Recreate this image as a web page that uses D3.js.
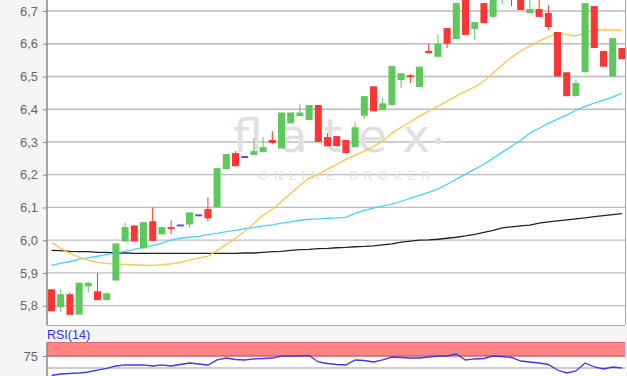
<!DOCTYPE html>
<html>
<head>
<meta charset="utf-8">
<script src="https://cdn.jsdelivr.net/npm/d3@7"></script>
<style>
  body { margin: 0; background: #f5f5f5; }
  svg { display: block; }
</style>
</head>
<body>
<svg id="chart" width="627" height="376"></svg>
<script>

// daily candles, oldest first
var opens  = [5.85, 5.795, 5.835, 5.773, 5.859, 5.844, 5.817, 5.877, 5.996, 6.045,
              5.975, 6.058, 6.018, 6.04, 6.045, 6.048, 6.076, 6.095, 6.101, 6.217,
              6.266, 6.254, 6.26, 6.269, 6.306, 6.28, 6.357, 6.379, 6.367, 6.413,
              6.315, 6.318, 6.306, 6.284, 6.38, 6.47, 6.397, 6.413, 6.489, 6.504,
              6.468, 6.578, 6.56, 6.648, 6.614, 6.76, 6.645, 6.724, 6.682, 6.74,
              6.76, 6.75, 6.694, 6.706, 6.694, 6.636, 6.513, 6.44, 6.513, 6.715,
              6.578, 6.5, 6.587];
var highs  = [5.85, 5.85, 5.84, 5.87, 5.872, 5.9, 5.838, 5.99, 6.053, 6.045,
              6.055, 6.1, 6.04, 6.061, 6.045, 6.085, 6.076, 6.13, 6.22, 6.263,
              6.272, 6.254, 6.312, 6.315, 6.333, 6.39, 6.39, 6.415, 6.413, 6.413,
              6.327, 6.318, 6.306, 6.36, 6.44, 6.47, 6.434, 6.532, 6.51, 6.507,
              6.53, 6.6, 6.63, 6.648, 6.724, 6.76, 6.666, 6.724, 6.75, 6.78,
              6.77, 6.76, 6.74, 6.74, 6.718, 6.636, 6.513, 6.489, 6.724, 6.715,
              6.578, 6.617, 6.587];
var lows   = [5.783, 5.78, 5.772, 5.773, 5.84, 5.817, 5.817, 5.877, 5.996, 5.996,
              5.975, 5.998, 6.018, 6.018, 6.045, 6.039, 6.076, 6.058, 6.101, 6.217,
              6.226, 6.254, 6.26, 6.269, 6.293, 6.28, 6.357, 6.379, 6.367, 6.3,
              6.287, 6.287, 6.266, 6.284, 6.37, 6.394, 6.397, 6.413, 6.465, 6.48,
              6.468, 6.571, 6.56, 6.587, 6.614, 6.627, 6.61, 6.663, 6.682, 6.722,
              6.715, 6.703, 6.694, 6.682, 6.642, 6.5, 6.44, 6.44, 6.513, 6.587,
              6.53, 6.5, 6.553];
var closes = [5.783, 5.835, 5.772, 5.87, 5.87, 5.817, 5.838, 5.99, 6.04, 5.996,
              6.055, 5.998, 6.04, 6.034, 6.045, 6.085, 6.076, 6.067, 6.22, 6.263,
              6.226, 6.254, 6.272, 6.284, 6.297, 6.39, 6.39, 6.39, 6.413, 6.3,
              6.287, 6.287, 6.266, 6.345, 6.44, 6.394, 6.418, 6.532, 6.51, 6.498,
              6.53, 6.571, 6.6, 6.6, 6.724, 6.627, 6.666, 6.663, 6.75, 6.78,
              6.74, 6.703, 6.706, 6.682, 6.651, 6.5, 6.44, 6.48, 6.724, 6.587,
              6.53, 6.617, 6.553];

// moving averages (orange = short, cyan = mid, black = long)
var maShort = [5.994, 5.975, 5.96, 5.948, 5.939, 5.932, 5.929, 5.926, 5.926, 5.925,
               5.923, 5.923, 5.925, 5.928, 5.932, 5.939, 5.945, 5.951, 5.969, 5.987,
               6.006, 6.027, 6.052, 6.076, 6.094, 6.119, 6.143, 6.168, 6.189, 6.202,
               6.217, 6.232, 6.247, 6.26, 6.272, 6.287, 6.302, 6.327, 6.345, 6.361,
               6.379, 6.394, 6.409, 6.425, 6.44, 6.455, 6.468, 6.486, 6.51, 6.535,
               6.559, 6.578, 6.593, 6.608, 6.62, 6.633, 6.628, 6.624, 6.633, 6.642,
               6.642, 6.642, 6.642];
var maMid   = [5.923, 5.929, 5.935, 5.942, 5.946, 5.951, 5.957, 5.961, 5.966, 5.972,
               5.978, 5.984, 5.991, 6.0, 6.006, 6.009, 6.012, 6.017, 6.021, 6.026,
               6.03, 6.035, 6.039, 6.044, 6.047, 6.052, 6.056, 6.061, 6.064, 6.065,
               6.067, 6.068, 6.07, 6.082, 6.091, 6.098, 6.104, 6.11, 6.119, 6.128,
               6.137, 6.146, 6.156, 6.171, 6.186, 6.202, 6.217, 6.232, 6.25, 6.269,
               6.287, 6.305, 6.327, 6.342, 6.357, 6.37, 6.382, 6.397, 6.409, 6.419,
               6.428, 6.437, 6.449];
var maLong  = [5.969, 5.968, 5.966, 5.965, 5.965, 5.963, 5.963, 5.961, 5.961, 5.96,
               5.96, 5.96, 5.96, 5.96, 5.96, 5.96, 5.96, 5.96, 5.96, 5.96,
               5.96, 5.961, 5.961, 5.963, 5.965, 5.966, 5.969, 5.971, 5.972, 5.974,
               5.975, 5.977, 5.978, 5.98, 5.981, 5.983, 5.986, 5.989, 5.994, 5.997,
               6.0, 6.001, 6.003, 6.006, 6.009, 6.013, 6.018, 6.024, 6.03, 6.038,
               6.041, 6.044, 6.046, 6.052, 6.056, 6.059, 6.062, 6.065, 6.068, 6.072,
               6.075, 6.078, 6.081];

var rsi = [34.4, 37.5, 38.5, 39.6, 41.7, 45.8, 49, 54.2, 56.3, 56.3,
           56.3, 54.2, 56.3, 54.2, 57.3, 60.4, 58.3, 56.3, 66.7, 70.8,
           67.7, 66.7, 68.8, 69.8, 70.8, 75, 75, 75, 76, 62.5,
           59.4, 57.3, 56.3, 66.7, 65.6, 62.5, 66.7, 72.9, 71.9, 70.8,
           70.8, 72.9, 75, 75, 79.2, 66.7, 68.8, 69.8, 75, 74,
           71.9, 64.6, 62.5, 60.4, 57.3, 45.8, 39.6, 43.8, 60.4, 52.1,
           47.9, 52.1, 50];

var priceTicks = [5.8, 5.9, 6.0, 6.1, 6.2, 6.3, 6.4, 6.5, 6.6, 6.7];
var rsiTicks = [75];
var rsiGrid = [50];

var upColor = '#5dc95d', downColor = '#ff3535', dojiColor = '#6a4cd4';

var svg = d3.select('#chart');
var plot = {left: 47, right: 625, top: 0, bottom: 325};
var rsiPanel = {top: 342, bottom: 390};

var n = closes.length;
var x = d3.scaleBand().domain(d3.range(n)).range([45.8, 627.6]).padding(0.24);
var y = d3.scaleLinear().domain([5.8, 6.7]).range([305.7, 11]);
var yRsi = d3.scaleLinear().domain([50, 75]).range([368, 356]);
var cx = i => x(i) + x.bandwidth() / 2;

svg.append('defs').append('clipPath').attr('id', 'clip-main')
   .append('rect')
   .attr('x', plot.left).attr('y', plot.top)
   .attr('width', plot.right - plot.left).attr('height', plot.bottom - plot.top);

// main panel background
svg.append('rect')
   .attr('x', plot.left).attr('y', plot.top)
   .attr('width', plot.right - plot.left).attr('height', plot.bottom - plot.top)
   .attr('fill', '#fff');

// gridlines
svg.append('g')
   .selectAll('line')
   .data(priceTicks)
   .enter()
   .append('line')
   .attr('x1', plot.left).attr('x2', plot.right)
   .attr('y1', d => y(d)).attr('y2', d => y(d))
   .attr('stroke', '#bcbcbc')
   .attr('stroke-width', 1.3);

// watermark
var wm = svg.append('g').attr('clip-path', 'url(#clip-main)');
wm.append('text')
  .attr('x', 233).attr('y', 152)
  .attr('textLength', 197)
  .attr('lengthAdjust', 'spacing')
  .attr('font-family', 'DejaVu Sans, sans-serif')
  .attr('font-size', 47)
  .attr('fill', '#e0e0e0')
  .text('flatex');
wm.append('circle')
  .attr('cx', 438).attr('cy', 141).attr('r', 3.2)
  .attr('fill', '#e0e0e0');
wm.append('text')
  .attr('x', 258).attr('y', 180)
  .attr('textLength', 172)
  .attr('lengthAdjust', 'spacing')
  .attr('font-family', 'DejaVu Sans, sans-serif')
  .attr('font-size', 13)
  .attr('fill', '#e6e6e6')
  .text('ONLINE BROKER');

// y axis
var yAxis = svg.append('g')
   .attr('transform', 'translate(' + plot.left + ',0)')
   .call(d3.axisLeft(y)
           .tickValues(priceTicks)
           .tickSize(4)
           .tickPadding(5)
           .tickFormat(d => d3.format('.1f')(d).replace('.', ',')));
yAxis.select('.domain').remove();
yAxis.selectAll('line').attr('stroke', '#888');
yAxis.selectAll('text')
     .attr('fill', '#666')
     .attr('font-size', 13)
     .attr('font-family', 'Liberation Sans, Arial, sans-serif');

var main = svg.append('g').attr('clip-path', 'url(#clip-main)');

// moving averages
var maLine = d3.line().x((d, i) => cx(i)).y(d => y(d));
[[maLong, '#222'], [maMid, '#45d4ff'], [maShort, '#ffc445']].forEach(m => {
  main.append('path')
      .datum(m[0])
      .attr('d', maLine)
      .attr('fill', 'none')
      .attr('stroke', m[1])
      .attr('stroke-width', 1.3);
});

// candles
var candles = d3.range(n).map(i => ({i: i, o: opens[i], h: highs[i], l: lows[i], c: closes[i]}));
var colorOf = d => d.c > d.o ? upColor : (d.c < d.o ? downColor : dojiColor);

var cg = main.selectAll('.candle')
    .data(candles)
    .enter()
    .append('g')
    .attr('class', 'candle');

cg.append('line')
  .attr('x1', d => cx(d.i)).attr('x2', d => cx(d.i))
  .attr('y1', d => y(d.h)).attr('y2', d => y(d.l))
  .attr('stroke', colorOf)
  .attr('stroke-width', 1);

cg.append('rect')
  .attr('x', d => x(d.i))
  .attr('y', d => y(Math.max(d.o, d.c)) - (d.o == d.c ? 1 : 0))
  .attr('width', x.bandwidth())
  .attr('height', d => Math.max(2, Math.abs(y(d.o) - y(d.c))))
  .attr('fill', colorOf);

// plot frame
svg.append('line')
   .attr('x1', plot.left).attr('x2', plot.left)
   .attr('y1', plot.top).attr('y2', plot.bottom)
   .attr('stroke', '#888').attr('stroke-width', 1.5);
svg.append('line')
   .attr('x1', plot.left).attr('x2', plot.right)
   .attr('y1', plot.bottom + 0.5).attr('y2', plot.bottom + 0.5)
   .attr('stroke', '#aaa');
svg.append('line')
   .attr('x1', plot.right + 0.5).attr('x2', plot.right + 0.5)
   .attr('y1', plot.top).attr('y2', plot.bottom)
   .attr('stroke', '#aaa');

// RSI panel
svg.append('rect')
   .attr('x', plot.left).attr('y', rsiPanel.top)
   .attr('width', plot.right - plot.left).attr('height', rsiPanel.bottom - rsiPanel.top)
   .attr('fill', '#fff');

svg.append('rect')
   .attr('x', plot.left).attr('y', rsiPanel.top)
   .attr('width', plot.right - plot.left).attr('height', yRsi(75) - rsiPanel.top)
   .attr('fill', '#ff8484');
svg.append('line')
   .attr('x1', plot.left).attr('x2', plot.right)
   .attr('y1', rsiPanel.top + 0.5).attr('y2', rsiPanel.top + 0.5)
   .attr('stroke', '#e06a6a');
svg.append('line')
   .attr('x1', plot.left).attr('x2', plot.right)
   .attr('y1', yRsi(75)).attr('y2', yRsi(75))
   .attr('stroke', '#d85f5f').attr('stroke-width', 1.3);

svg.append('g')
   .selectAll('line')
   .data(rsiGrid)
   .enter()
   .append('line')
   .attr('x1', plot.left).attr('x2', plot.right)
   .attr('y1', d => yRsi(d)).attr('y2', d => yRsi(d))
   .attr('stroke', '#bcbcbc').attr('stroke-width', 1.3);

var rAxis = svg.append('g')
   .attr('transform', 'translate(' + plot.left + ',0)')
   .call(d3.axisLeft(yRsi).tickValues(rsiTicks).tickSize(4).tickPadding(5));
rAxis.select('.domain').remove();
rAxis.selectAll('line').attr('stroke', '#888');
rAxis.selectAll('text')
     .attr('fill', '#666')
     .attr('font-size', 13)
     .attr('font-family', 'Liberation Sans, Arial, sans-serif');

svg.append('path')
   .datum(rsi)
   .attr('d', d3.line().x((d, i) => cx(i)).y(d => yRsi(d)))
   .attr('fill', 'none')
   .attr('stroke', '#3838f5')
   .attr('stroke-width', 1.3);

svg.append('line')
   .attr('x1', plot.left).attr('x2', plot.left)
   .attr('y1', rsiPanel.top).attr('y2', 376)
   .attr('stroke', '#888').attr('stroke-width', 1.5);

svg.append('text')
   .attr('x', 47).attr('y', 339)
   .attr('fill', '#2f2fff')
   .attr('font-size', 12.5)
   .attr('font-family', 'Liberation Sans, Arial, sans-serif')
   .text('RSI(14)');

</script>
</body>
</html>
